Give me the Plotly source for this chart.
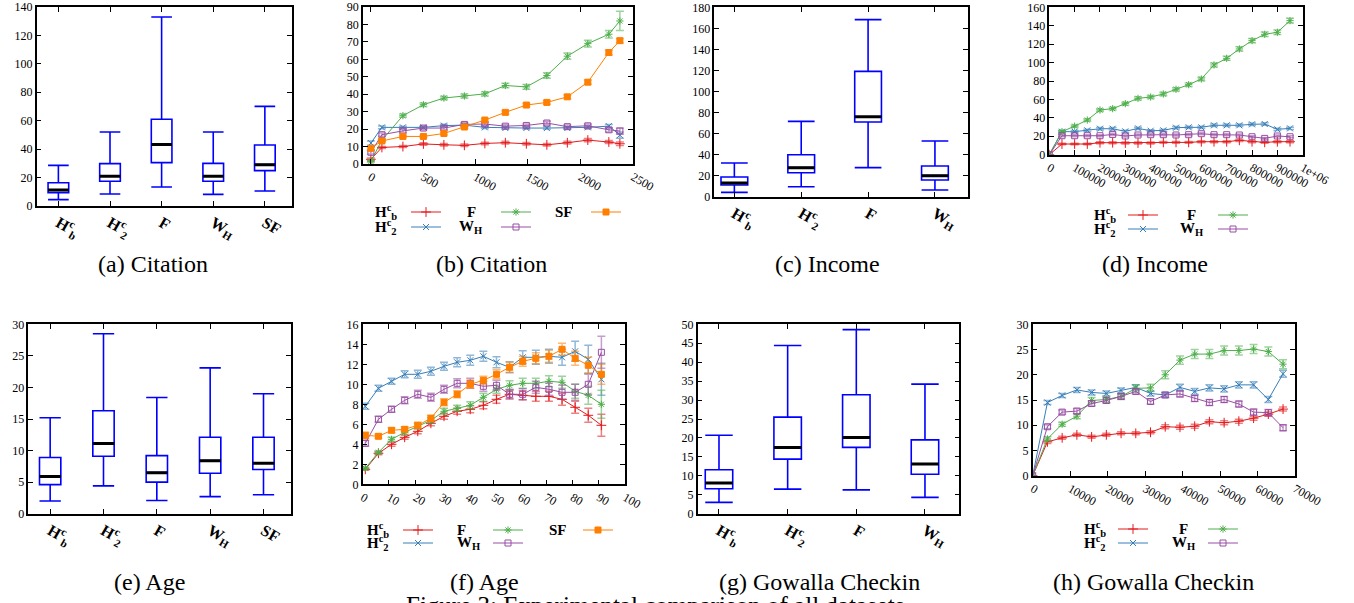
import plotly.graph_objects as go

W, H = 1354, 603
FONT = "Liberation Serif"

# ---------------- labels ----------------
HBC = "H<sup>c</sup><sub>b</sub>"
H2C = "H<sup>c</sup><sub>2</sub>"
FL = "F"
WH = "W<sub>H</sub>"
SF = "SF"

captions = ["(a) Citation", "(b) Citation", "(c) Income", "(d) Income",
            "(e) Age", "(f) Age", "(g) Gowalla Checkin", "(h) Gowalla Checkin"]
figure_caption = "Figure 3: Experimental comparison of all datasets"

# ---------------- box plot data ----------------
cit_box_labels = [HBC, H2C, FL, WH, SF]
cit_box_low = [4.5, 8.4, 13.4, 8.2, 10.6]
cit_box_q1 = [9.4, 17.4, 30.5, 17.4, 24.9]
cit_box_med = [11.3, 20.9, 43.2, 20.9, 29.1]
cit_box_q3 = [16.4, 29.8, 61.0, 30.0, 42.9]
cit_box_high = [28.6, 52.1, 133.0, 52.1, 70.1]

inc_box_labels = [HBC, H2C, FL, WH]
inc_box_low = [4.1, 9.5, 27.6, 6.3]
inc_box_q1 = [11.1, 22.8, 71.0, 15.8]
inc_box_med = [13.0, 27.6, 76.0, 20.0]
inc_box_q3 = [18.7, 39.9, 119.1, 29.2]
inc_box_high = [32.0, 71.6, 168.3, 52.9]

age_box_labels = [HBC, H2C, FL, WH, SF]
age_box_low = [2.0, 4.4, 2.1, 2.7, 3.0]
age_box_q1 = [4.6, 9.1, 5.0, 6.4, 7.0]
age_box_med = [5.9, 11.1, 6.5, 8.4, 8.0]
age_box_q3 = [8.9, 16.3, 9.2, 12.1, 12.1]
age_box_high = [15.2, 28.5, 18.4, 23.1, 19.0]

gow_box_labels = [HBC, H2C, FL, WH]
gow_box_low = [3.0, 6.5, 6.3, 4.3]
gow_box_q1 = [6.6, 14.4, 17.5, 10.4]
gow_box_med = [8.1, 17.5, 20.1, 13.1]
gow_box_q3 = [11.6, 25.5, 31.4, 19.5]
gow_box_high = [20.7, 44.4, 48.6, 34.2]

# ---------------- line plot data ----------------
cit_x = [5, 110, 310, 505, 700, 895, 1090, 1285, 1485, 1680, 1875, 2070, 2270, 2375]
cit_hbc = [2.7, 9.5, 10.0, 11.5, 11.0, 10.7, 11.8, 12.2, 11.6, 11.0, 12.2, 13.7, 12.6, 11.6]
cit_h2c = [12.0, 21.0, 21.0, 21.0, 22.0, 22.3, 21.0, 20.6, 20.6, 20.6, 20.6, 21.0, 21.7, 16.6]
cit_f = [1.5, 13.7, 27.7, 34.0, 37.8, 39.0, 40.2, 45.0, 44.2, 50.7, 61.8, 69.0, 74.4, 82.0]
cit_wh = [6.7, 16.8, 19.0, 20.6, 20.6, 22.7, 22.9, 21.7, 22.1, 23.5, 21.4, 21.9, 19.6, 18.9]
cit_sf = [9.0, 13.2, 15.8, 15.8, 17.5, 21.2, 25.2, 29.6, 33.8, 35.3, 38.5, 46.9, 63.9, 70.7]
cit_hbc_err = [0.8, 0.6, 0.6, 0.7, 0.7, 0.7, 0.7, 0.8, 0.7, 0.7, 0.8, 0.9, 0.9, 1.0]
cit_h2c_err = [1.2, 0.8, 0.7, 0.7, 0.8, 0.8, 0.7, 0.7, 0.7, 0.7, 0.7, 0.8, 1.0, 1.8]
cit_f_err = [0.5, 0.8, 0.9, 1.0, 1.0, 1.1, 1.2, 1.3, 1.4, 1.6, 1.8, 2.0, 2.2, 5.5]
cit_wh_err = [1.0, 0.9, 0.9, 0.9, 0.9, 0.9, 0.9, 0.9, 0.9, 1.0, 1.0, 1.0, 1.2, 1.8]
cit_sf_err = [0.8, 0.6, 0.6, 0.6, 0.7, 0.7, 0.8, 0.9, 0.9, 1.0, 1.1, 1.2, 1.4, 1.3]

inc_x = [0, 50000, 100000, 150000, 200000, 250000, 300000, 350000, 400000, 450000,
         500000, 550000, 600000, 650000, 700000, 750000, 800000, 850000, 900000, 950000]
inc_hbc = [0, 11.6, 11.6, 11.6, 13.0, 13.0, 12.7, 12.7, 12.7, 13.4, 13.4, 13.4, 14.1, 14.1, 14.1, 15.6, 14.1, 13.4, 14.1, 14.1]
inc_h2c = [0, 25.0, 25.0, 26.4, 28.2, 28.2, 25.3, 28.6, 26.0, 26.4, 29.3, 29.7, 29.7, 31.9, 31.9, 31.9, 33.0, 33.3, 27.5, 28.6]
inc_f = [0, 25.0, 31.0, 37.6, 48.5, 50.0, 55.4, 61.2, 62.6, 65.9, 71.0, 76.0, 82.2, 97.4, 104.6, 114.8, 123.8, 130.7, 132.9, 145.5]
inc_wh = [0, 20.6, 20.6, 20.6, 20.6, 22.0, 20.3, 21.4, 21.7, 21.7, 21.4, 21.7, 22.8, 21.7, 21.7, 21.4, 19.5, 17.7, 20.3, 19.5]
inc_hbc_err = [0, 0.9, 0.9, 0.9, 1.0, 1.0, 1.0, 1.0, 1.0, 1.0, 1.0, 1.0, 1.1, 1.1, 1.1, 1.2, 1.1, 1.1, 1.1, 1.1]
inc_h2c_err = [0, 1.2, 1.2, 1.2, 1.3, 1.3, 1.2, 1.3, 1.2, 1.2, 1.3, 1.3, 1.3, 1.4, 1.4, 1.4, 1.4, 1.4, 1.3, 1.3]
inc_f_err = [0, 1.2, 1.3, 1.4, 1.5, 1.5, 1.6, 1.7, 1.7, 1.8, 1.8, 1.9, 2.0, 2.1, 2.2, 2.3, 2.4, 2.4, 2.5, 2.6]
inc_wh_err = [0, 1.1, 1.1, 1.1, 1.1, 1.2, 1.1, 1.1, 1.1, 1.1, 1.1, 1.1, 1.2, 1.1, 1.1, 1.1, 1.1, 1.1, 1.1, 1.1]

age_x = [1, 6, 11, 16, 21, 26, 31, 36, 41, 46, 51, 56, 61, 66, 71, 76, 81, 86, 91]
age_hbc = [1.5, 3.1, 4.0, 4.7, 5.3, 6.1, 6.8, 7.3, 7.5, 7.9, 8.5, 9.0, 8.9, 8.8, 8.8, 8.5, 7.7, 6.9, 5.9]
age_h2c = [7.8, 9.6, 10.3, 11.0, 11.0, 11.3, 11.8, 12.2, 12.4, 12.8, 12.2, 11.7, 12.7, 12.7, 12.8, 12.7, 13.3, 12.5, 10.5]
age_f = [1.6, 3.2, 4.5, 5.2, 5.8, 6.4, 7.3, 7.6, 7.9, 8.7, 9.5, 9.9, 10.1, 10.1, 10.3, 10.2, 9.3, 8.9, 8.0]
age_wh = [4.1, 6.5, 7.5, 8.4, 9.0, 8.7, 9.5, 10.1, 10.1, 9.8, 9.9, 9.0, 9.0, 9.7, 9.5, 9.2, 9.2, 10.0, 13.2]
age_sf = [4.9, 4.8, 5.4, 5.5, 5.9, 6.6, 8.2, 9.0, 10.0, 10.4, 11.0, 11.7, 12.3, 12.6, 12.8, 13.5, 12.6, 11.9, 11.0]
age_hbc_err = [0.1, 0.15, 0.2, 0.2, 0.25, 0.25, 0.3, 0.3, 0.35, 0.35, 0.4, 0.4, 0.45, 0.5, 0.5, 0.6, 0.6, 0.7, 1.1]
age_h2c_err = [0.3, 0.3, 0.3, 0.35, 0.4, 0.4, 0.4, 0.45, 0.5, 0.5, 0.55, 0.55, 0.65, 0.7, 0.7, 0.8, 1.0, 1.4, 1.6]
age_f_err = [0.1, 0.15, 0.2, 0.2, 0.25, 0.25, 0.3, 0.3, 0.35, 0.4, 0.4, 0.45, 0.5, 0.5, 0.55, 0.6, 0.7, 0.9, 1.4]
age_wh_err = [0.3, 0.3, 0.3, 0.35, 0.4, 0.4, 0.4, 0.45, 0.5, 0.5, 0.5, 0.5, 0.55, 0.6, 0.6, 0.7, 0.8, 1.0, 1.6]
age_sf_err = [0.3, 0.2, 0.25, 0.25, 0.3, 0.3, 0.35, 0.35, 0.4, 0.4, 0.45, 0.5, 0.5, 0.55, 0.6, 0.6, 0.7, 0.8, 1.0]

gow_x = [0, 3930, 7860, 11790, 15720, 19650, 23580, 27510, 31440, 35370,
         39300, 43230, 47160, 51090, 55020, 58950, 62880, 66810]
gow_hbc = [0, 6.7, 7.5, 8.1, 7.7, 8.1, 8.4, 8.4, 8.6, 9.7, 9.6, 9.8, 10.7, 10.5, 10.8, 11.4, 12.2, 13.2]
gow_h2c = [0, 14.5, 15.9, 17.0, 16.5, 16.3, 16.9, 17.5, 16.3, 16.0, 17.5, 16.7, 17.4, 17.2, 18.0, 18.0, 15.1, 20.2]
gow_f = [0, 7.3, 10.2, 11.8, 14.9, 15.1, 15.7, 17.3, 17.4, 20.0, 22.9, 24.1, 24.1, 24.8, 24.8, 25.1, 24.6, 22.1]
gow_wh = [0, 9.7, 12.6, 12.8, 14.3, 14.9, 15.7, 16.7, 14.7, 16.0, 16.2, 15.3, 14.5, 15.1, 14.2, 12.6, 12.5, 9.5]
gow_hbc_err = [0, 0.3, 0.3, 0.3, 0.3, 0.3, 0.3, 0.3, 0.3, 0.4, 0.4, 0.4, 0.4, 0.4, 0.4, 0.4, 0.4, 0.4]
gow_h2c_err = [0, 0.4, 0.4, 0.5, 0.5, 0.5, 0.5, 0.5, 0.5, 0.5, 0.6, 0.6, 0.6, 0.6, 0.6, 0.6, 0.6, 0.7]
gow_f_err = [0, 0.4, 0.4, 0.5, 0.6, 0.6, 0.6, 0.7, 0.7, 0.8, 0.8, 0.9, 0.9, 0.9, 0.9, 0.9, 0.9, 0.9]
gow_wh_err = [0, 0.4, 0.4, 0.5, 0.5, 0.5, 0.5, 0.5, 0.5, 0.5, 0.6, 0.6, 0.6, 0.6, 0.6, 0.6, 0.6, 0.6]

# tick labels
cit_xticks = [0, 500, 1000, 1500, 2000, 2500]
cit_xticklabels = ["0", "500", "1000", "1500", "2000", "2500"]
inc_xticks = [0, 100000, 200000, 300000, 400000, 500000, 600000, 700000, 800000, 900000, 1000000]
inc_xticklabels = ["0", "100000", "200000", "300000", "400000", "500000", "600000",
                   "700000", "800000", "900000", "1e+06"]
age_xticks = [0, 10, 20, 30, 40, 50, 60, 70, 80, 90, 100]
age_xticklabels = ["0", "10", "20", "30", "40", "50", "60", "70", "80", "90", "100"]
gow_xticks = [0, 10000, 20000, 30000, 40000, 50000, 60000, 70000]
gow_xticklabels = ["0", "10000", "20000", "30000", "40000", "50000", "60000", "70000"]

# ---------------- styles ----------------
BOX_BLUE = "#0000ff"
BOX_W = 0.4
STY = {
    "hbc": dict(color="#e41a1c", err="rgba(228,26,28,0.55)", symbol="cross-thin", size=7),
    "h2c": dict(color="#377eb8", err="rgba(55,126,184,0.55)", symbol="x-thin", size=6),
    "f": dict(color="#4daf4a", err="rgba(77,175,74,0.55)", symbol="asterisk", size=6),
    "wh": dict(color="#984ea3", err="rgba(152,78,163,0.55)", symbol="square-open", size=6),
    "sf": dict(color="#ff7f00", err="rgba(255,127,0,0.55)", symbol="square", size=6),
}
LABEL = {"hbc": HBC, "h2c": H2C, "f": FL, "wh": WH, "sf": SF}

fig = go.Figure()


def px(p):
    return p / W


def py(p):
    return 1 - p / H


# panel frames in pixels: (left, right, top, bottom)
PANELS = {
    1: (36.7, 291.7, 7.0, 206.0),
    2: (363.0, 633.0, 7.0, 164.0),
    3: (714.3, 967.7, 7.3, 196.7),
    4: (1049.3, 1302.7, 7.3, 154.7),
    5: (28.3, 290.7, 324.3, 513.7),
    6: (362.7, 625.0, 324.3, 484.3),
    7: (697.7, 959.3, 324.3, 513.7),
    8: (1032.7, 1295.0, 324.3, 475.7),
}

axis_common = dict(
    showline=True, linecolor="black", linewidth=1.5, mirror="allticks",
    ticks="inside", ticklen=5, tickwidth=1, tickcolor="black",
    showgrid=False, zeroline=False, automargin=False,
    tickfont=dict(family=FONT, size=12, color="black"),
)

layout_axes = {}


def set_axes(n, xr, yr, ydt, xtv, xtt, xfont=None):
    l, r, t, b = PANELS[n]
    xa = dict(axis_common, domain=[px(l), px(r)], range=xr, anchor=f"y{n}",
              tickmode="array", tickvals=xtv, ticktext=xtt, tickangle=30)
    if xfont:
        xa["tickfont"] = xfont
    ya = dict(axis_common, domain=[py(b), py(t)], range=yr, anchor=f"x{n}",
              tickmode="linear", tick0=0, dtick=ydt)
    layout_axes["xaxis" if n == 1 else f"xaxis{n}"] = xa
    layout_axes["yaxis" if n == 1 else f"yaxis{n}"] = ya


def box_panel(n, labels, lo, q1, med, q3, hi, xr, yr, ydt):
    xs = list(range(len(labels)))
    ax = dict(xaxis="x" if n == 1 else f"x{n}", yaxis="y" if n == 1 else f"y{n}")
    fig.add_trace(go.Box(
        x=xs, lowerfence=lo, q1=q1, median=med, q3=q3, upperfence=hi,
        width=BOX_W, whiskerwidth=1, boxpoints=False,
        line=dict(color=BOX_BLUE, width=1.6), fillcolor="rgba(0,0,0,0)",
        showlegend=False, hoverinfo="skip", **ax))
    mx, my = [], []
    for x, m in zip(xs, med):
        mx += [x - BOX_W / 2, x + BOX_W / 2, None]
        my += [m, m, None]
    fig.add_trace(go.Scatter(x=mx, y=my, mode="lines", line=dict(color="black", width=3),
                             showlegend=False, hoverinfo="skip", **ax))
    set_axes(n, xr, yr, ydt, xs, labels,
             xfont=dict(family=FONT, size=16, color="black", weight="bold"))


def line_panel(n, x, series, xr, xtv, xtt, yr, ydt, leg_rows):
    ax = dict(xaxis="x" if n == 1 else f"x{n}", yaxis="y" if n == 1 else f"y{n}")
    for key, y, err in series:
        s = STY[key]
        leg = leg_rows[0] if key in ("hbc", "f", "sf") else leg_rows[1]
        fig.add_trace(go.Scatter(
            x=x, y=y, mode="lines+markers", name=" ", legend=leg,
            line=dict(color=s["color"], width=1),
            marker=dict(symbol=s["symbol"], size=s["size"], color=s["color"],
                        line=dict(color=s["color"], width=1)),
            error_y=dict(type="data", array=err, visible=True, color=s["err"],
                         thickness=1.5, width=4),
            hoverinfo="skip", **ax))
    set_axes(n, xr, yr, ydt, xtv, xtt)


box_panel(1, cit_box_labels, cit_box_low, cit_box_q1, cit_box_med, cit_box_q3, cit_box_high,
          [-0.42, 4.52], [0, 140], 20)
line_panel(2, cit_x, [("hbc", cit_hbc, cit_hbc_err), ("h2c", cit_h2c, cit_h2c_err),
                      ("f", cit_f, cit_f_err), ("wh", cit_wh, cit_wh_err), ("sf", cit_sf, cit_sf_err)],
           [-70, 2500], cit_xticks, cit_xticklabels, [0, 90], 10, ("legend", "legend2"))
box_panel(3, inc_box_labels, inc_box_low, inc_box_q1, inc_box_med, inc_box_q3, inc_box_high,
          [-0.3, 3.49], [0, 180], 20)
line_panel(4, inc_x, [("hbc", inc_hbc, inc_hbc_err), ("h2c", inc_h2c, inc_h2c_err),
                      ("f", inc_f, inc_f_err), ("wh", inc_wh, inc_wh_err)],
           [0, 1000000], inc_xticks, inc_xticklabels, [0, 160], 20, ("legend3", "legend4"))
box_panel(5, age_box_labels, age_box_low, age_box_q1, age_box_med, age_box_q3, age_box_high,
          [-0.41, 4.51], [0, 30], 5)
line_panel(6, age_x, [("hbc", age_hbc, age_hbc_err), ("h2c", age_h2c, age_h2c_err),
                      ("f", age_f, age_f_err), ("wh", age_wh, age_wh_err), ("sf", age_sf, age_sf_err)],
           [0, 100], age_xticks, age_xticklabels, [0, 16], 2, ("legend5", "legend6"))
box_panel(7, gow_box_labels, gow_box_low, gow_box_q1, gow_box_med, gow_box_q3, gow_box_high,
          [-0.31, 3.5], [0, 50], 5)
line_panel(8, gow_x, [("hbc", gow_hbc, gow_hbc_err), ("h2c", gow_h2c, gow_h2c_err),
                      ("f", gow_f, gow_f_err), ("wh", gow_wh, gow_wh_err)],
           [0, 70000], gow_xticks, gow_xticklabels, [0, 30], 5, ("legend7", "legend8"))

# ---------------- legends (symbols) + label annotations ----------------
LEG_PITCH = 90
legend_specs = {
    # legend id: (first sample start px, row center px)
    "legend": (410, 212), "legend2": (410, 227),
    "legend3": (1127, 215), "legend4": (1127, 229),
    "legend5": (402, 530), "legend6": (402, 543),
    "legend7": (1117, 529), "legend8": (1117, 543),
}
legend_layout = {}
for lid, (sx, sy) in legend_specs.items():
    legend_layout[lid] = dict(
        orientation="h", x=px(sx - 4), y=py(sy), xanchor="left", yanchor="middle",
        bgcolor="rgba(0,0,0,0)", borderwidth=0, entrywidth=LEG_PITCH - 45,
        entrywidthmode="pixels", font=dict(size=10, family=FONT), tracegroupgap=0,
        itemclick=False, itemdoubleclick=False)

annotations = []
legend_labels = [
    # (key, x px, y px)
    ("hbc", 373, 212), ("f", 465, 212), ("sf", 553, 212), ("h2c", 373, 227), ("wh", 457, 227),
    ("hbc", 1092, 215), ("f", 1185, 215), ("h2c", 1092, 229), ("wh", 1178, 229),
    ("hbc", 365, 530), ("f", 455, 530), ("sf", 547, 530), ("h2c", 365, 543), ("wh", 455, 543),
    ("hbc", 1082, 529), ("f", 1177, 529), ("h2c", 1082, 543), ("wh", 1170, 543),
]
for key, lx, ly in legend_labels:
    annotations.append(dict(text="<b>" + LABEL[key] + "</b>", x=px(lx), y=py(ly),
                            xref="paper", yref="paper", xanchor="left", yanchor="middle",
                            showarrow=False, font=dict(family=FONT, size=15, color="black")))

caption_pos = [(152.5, 264), (491, 264), (827, 264), (1155, 264),
               (149, 582), (484, 582), (819, 582), (1153, 582)]
for text, (cx, cy) in zip(captions, caption_pos):
    annotations.append(dict(text=text, x=px(cx), y=py(cy), xref="paper", yref="paper",
                            xanchor="center", yanchor="middle", showarrow=False,
                            font=dict(family=FONT, size=24, color="black")))
annotations.append(dict(text=figure_caption, x=px(655), y=py(605), xref="paper", yref="paper",
                        xanchor="center", yanchor="middle", showarrow=False,
                        font=dict(family=FONT, size=25, color="black")))

fig.update_layout(
    width=W, height=H, margin=dict(l=0, r=0, t=0, b=0, pad=0, autoexpand=False),
    paper_bgcolor="white", plot_bgcolor="white",
    annotations=annotations, **layout_axes, **legend_layout,
)

fig.write_html("out.html", include_plotlyjs=True, config={"displayModeBar": False},
               post_script="document.body.style.margin='0';document.body.style.overflow='hidden';")
